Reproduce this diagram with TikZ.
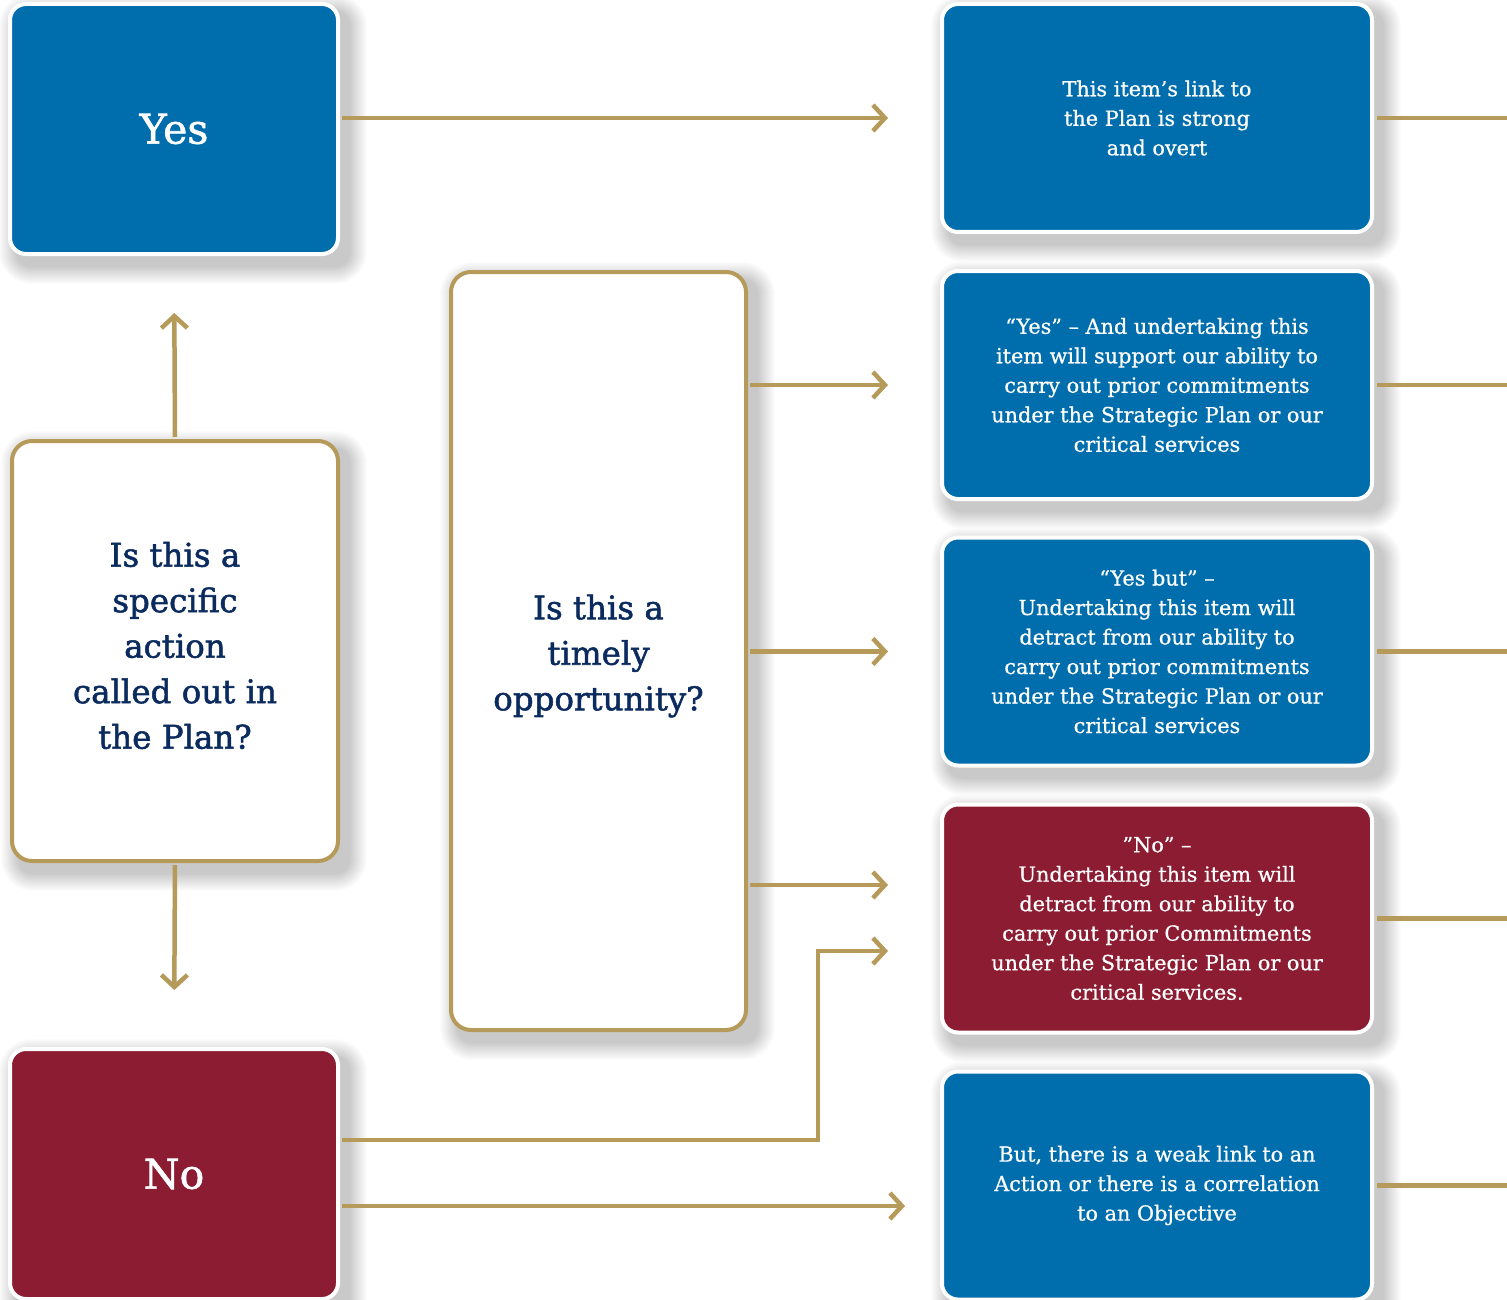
\documentclass[tikz,border=0pt]{standalone}
\usepackage{fontspec}
\setmainfont{DejaVu Serif}
\newfontfamily\qfont{DejaVu Serif}[FakeBold=1.6]
\newfontfamily\afont{DejaVu Serif}[FakeBold=0.7]
\newfontfamily\bigfont{DejaVu Serif}[FakeBold=1.4]
\usetikzlibrary{arrows.meta,calc,backgrounds}
\definecolor{pblue}{HTML}{006DAD}
\definecolor{pred}{HTML}{8B1C32}
\definecolor{pgold}{HTML}{B59A5A}
\definecolor{pnavy}{HTML}{0B2B5E}
\newcommand\softshadow[1]{%
  \foreach \k in {1,...,18}{%
    \pgfmathsetmacro\rr{14+\k}%
    \fill[black,opacity=0.013,rounded corners=\rr pt]
      ($(#1.north west)+(9-\k,10-\k)$) rectangle ($(#1.south east)+(9+\k,10+\k)$);
  }}
\tikzset{
  answer/.style={draw=white,line width=4pt,rounded corners=16pt,text=white,align=center,inner sep=0pt},
  bigans/.style={answer,minimum width=328pt,minimum height=250pt,font=\bigfont\fontsize{41}{50}\selectfont},
  outbox/.style={answer,minimum width=430pt,minimum height=228pt,font=\afont\fontsize{20.8}{29.5}\selectfont},
  question/.style={draw=pgold,fill=white,line width=4pt,rounded corners=20pt,inner sep=0pt},
  qtext/.style={text=pnavy,align=center,inner sep=0pt,font=\qfont\fontsize{32.5}{45.5}\selectfont},
  conn/.style={draw=pgold,line width=4.5pt},
  arr/.style={conn,-{Straight Barb[length=12pt,width=26pt,line width=4.5pt]}},
}
\begin{document}
\begin{tikzpicture}[x=1pt,y=-1pt]
\useasboundingbox (0,0) rectangle (1507,1300);
\coordinate (o1) at (1507,118);
\coordinate (o2) at (1507,385);
\coordinate (o3) at (1507,651.5);
\coordinate (o4) at (1507,918.5);
\coordinate (o5) at (1507,1185.5);

\node[question,minimum width=295pt,minimum height=758pt,
      label={[qtext,yshift=-5pt]center:{Is this a\\timely\\opportunity?}}] (q2) at (598.5,651) {};
\node[question,minimum width=326pt,minimum height=420pt,
      label={[qtext,yshift=5.5pt]center:{Is this a\\specific\\action\\called out in\\the Plan?}}] (q1) at (175,651) {};

\node[bigans,fill=pblue] (yes) at (174,129) {Yes};
\node[bigans,fill=pred] (no) at (174,1174) {No};

\node[outbox,fill=pblue] (r1) at (1157,118) {This item’s link to\\the Plan is strong\\and overt};
\node[outbox,fill=pblue] (r2) at (1157,385) {“Yes” – And undertaking this\\item will support our ability to\\carry out prior commitments\\under the Strategic Plan or our\\critical services};
\node[outbox,fill=pblue] (r3) at (1157,651.5) {“Yes but” –\\Undertaking this item will\\detract from our ability to\\carry out prior commitments\\under the Strategic Plan or our\\critical services};
\node[outbox,fill=pred] (r4) at (1157,918.5) {”No” –\\Undertaking this item will\\detract from our ability to\\carry out prior Commitments\\under the Strategic Plan or our\\critical services.};
\node[outbox,fill=pblue] (r5) at (1157,1185.5) {But, there is a weak link to an\\Action or there is a correlation\\to an Objective};

\begin{pgfonlayer}{background}
  \fill[white] (0,0) rectangle (1507,1300);
  \softshadow{q1}\softshadow{q2}\softshadow{yes}\softshadow{no}
  \softshadow{r1}\softshadow{r2}\softshadow{r3}\softshadow{r4}\softshadow{r5}
\end{pgfonlayer}

% connectors
\draw[arr,shorten <=2pt,shorten >=52pt] (yes.east |- r1.west) -- (r1.west);
\draw[arr,shorten <=2pt,shorten >=57pt] (q1.north) -- (yes.south);
\draw[arr,shorten <=2pt,shorten >=57pt] (q1.south) -- (no.north);
\draw[arr,shorten <=2pt,shorten >=52pt] (q2.east |- r2.west) -- (r2.west);
\draw[arr,shorten <=2pt,shorten >=52pt] (q2.east |- r3.west) -- (r3.west);
\draw[arr,shorten <=2pt,shorten >=52pt] ($(q2.east |- r4.west)+(0,-33.5)$) -- ($(r4.west)+(0,-33.5)$);
\draw[arr,shorten <=2pt,shorten >=52pt] ($(no.east)+(0,-34)$) -| (818,951) -- ($(r4.west)+(0,32.5)$);
\draw[arr,shorten <=2pt,shorten >=35pt] ($(no.east)+(0,32)$) -- ($(r5.west)+(0,20.5)$);
\foreach \i in {1,...,5}{
  \draw[conn,shorten <=3pt] (r\i.east) -- (o\i);
}
\end{tikzpicture}
\end{document}
